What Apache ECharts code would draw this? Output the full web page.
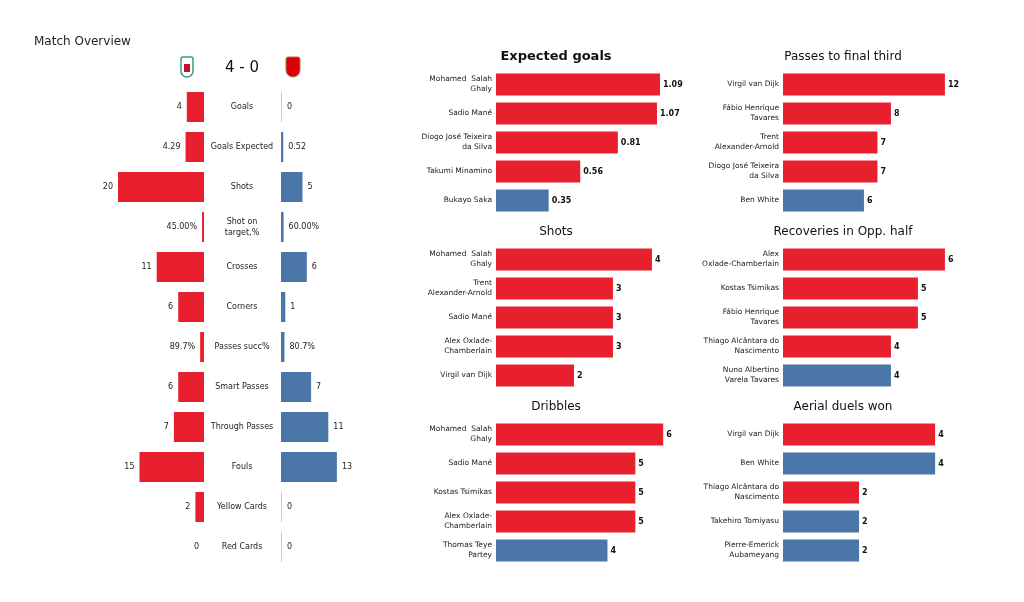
<!DOCTYPE html>
<html><head><meta charset="utf-8">
<script src="https://cdn.jsdelivr.net/npm/echarts@6/dist/echarts.min.js"></script>
<style>html,body{margin:0;background:#fff}#c{width:1024px;height:602px}</style>
</head><body><div id="c"></div>
<script>
var RED = '#e8202e', BLUE = '#4a76a8';

// match overview
var statNames = ['Goals', 'Goals Expected', 'Shots', 'Shot on\ntarget,%', 'Crosses', 'Corners',
  'Passes succ%', 'Smart Passes', 'Through Passes', 'Fouls', 'Yellow Cards', 'Red Cards'];
var homeVals = [4, 4.29, 20, 0.45, 11, 6, 0.897, 6, 7, 15, 2, 0];
var awayVals = [0, 0.52, 5, 0.60, 6, 1, 0.807, 7, 11, 13, 0, 0];
var homeText = ['4', '4.29', '20', '45.00%', '11', '6', '89.7%', '6', '7', '15', '2', '0'];
var awayText = ['0', '0.52', '5', '60.00%', '6', '1', '80.7%', '7', '11', '13', '0', '0'];

// player panels: title, names, values, team (L = Liverpool, A = Arsenal)
var panels = [
  { title: 'Expected goals', bold: true,
    names: ['Mohamed  Salah\nGhaly', 'Sadio Mané', 'Diogo José Teixeira\nda Silva', 'Takumi Minamino', 'Bukayo Saka'],
    values: [1.09, 1.07, 0.81, 0.56, 0.35], teams: ['L', 'L', 'L', 'L', 'A'], max: 1.13 },
  { title: 'Passes to final third',
    names: ['Virgil van Dijk', 'Fábio Henrique\nTavares', 'Trent\nAlexander-Arnold', 'Diogo José Teixeira\nda Silva', 'Ben White'],
    values: [12, 8, 7, 7, 6], teams: ['L', 'L', 'L', 'L', 'A'], max: 12.6 },
  { title: 'Shots',
    names: ['Mohamed  Salah\nGhaly', 'Trent\nAlexander-Arnold', 'Sadio Mané', 'Alex Oxlade-\nChamberlain', 'Virgil van Dijk'],
    values: [4, 3, 3, 3, 2], teams: ['L', 'L', 'L', 'L', 'L'], max: 4.36 },
  { title: 'Recoveries in Opp. half',
    names: ['Alex\nOxlade-Chamberlain', 'Kostas Tsimikas', 'Fábio Henrique\nTavares', 'Thiago Alcântara do\nNascimento', 'Nuno Albertino\nVarela Tavares'],
    values: [6, 5, 5, 4, 4], teams: ['L', 'L', 'L', 'L', 'A'], max: 6.3 },
  { title: 'Dribbles',
    names: ['Mohamed  Salah\nGhaly', 'Sadio Mané', 'Kostas Tsimikas', 'Alex Oxlade-\nChamberlain', 'Thomas Teye\nPartey'],
    values: [6, 5, 5, 5, 4], teams: ['L', 'L', 'L', 'L', 'A'], max: 6.1 },
  { title: 'Aerial duels won',
    names: ['Virgil van Dijk', 'Ben White', 'Thiago Alcântara do\nNascimento', 'Takehiro Tomiyasu', 'Pierre-Emerick\nAubameyang'],
    values: [4, 4, 2, 2, 2], teams: ['L', 'A', 'L', 'A', 'A'], max: 4.47 }
];

var font = 'DejaVu Sans';
var grids = [], xAxes = [], yAxes = [], series = [], graphics = [];

// overview grids
grids.push({ left: 32, top: 87, width: 172, height: 480 });
grids.push({ left: 281, top: 87, width: 172, height: 480 });
xAxes.push({ gridIndex: 0, type: 'value', min: 0, max: 40, inverse: true, show: false });
xAxes.push({ gridIndex: 1, type: 'value', min: 0, max: 40, show: false });
yAxes.push({ gridIndex: 0, type: 'category', data: statNames, inverse: true, show: false });
yAxes.push({ gridIndex: 1, type: 'category', data: statNames, inverse: true,
  axisLine: { show: false }, axisTick: { show: false },
  axisLabel: { align: 'center', margin: 39, fontSize: 8, color: '#222', fontFamily: font, lineHeight: 11 } });
series.push({ type: 'bar', xAxisIndex: 0, yAxisIndex: 0, barWidth: 30, data: homeVals,
  itemStyle: { color: RED },
  label: { show: true, position: 'left', fontSize: 8, color: '#222', fontFamily: font,
    formatter: function (p) { return homeText[p.dataIndex]; } } });
series.push({ type: 'bar', xAxisIndex: 1, yAxisIndex: 1, barWidth: 30, barMinHeight: 1,
  data: awayVals.map(function (v) { return v === 0 ? { value: v, itemStyle: { color: '#c5cfd9' } } : v; }),
  itemStyle: { color: BLUE },
  label: { show: true, position: 'right', fontSize: 8, color: '#222', fontFamily: font,
    formatter: function (p) { return awayText[p.dataIndex]; } } });

graphics.push({ type: 'text', left: 34, top: 36, style: { text: 'Match Overview', fontSize: 12, fill: '#222', fontFamily: font } });
graphics.push({ type: 'text', x: 242, y: 68, style: { text: '4 - 0', fontSize: 15, fill: '#111', fontFamily: font, align: 'center', verticalAlign: 'middle' } });
// simple crest marks
graphics.push({ type: 'rect', shape: { x: 181, y: 57, width: 12, height: 20, r: [2, 2, 6, 6] }, style: { fill: '#fff', stroke: '#3d9a8b', lineWidth: 1.5 } });
graphics.push({ type: 'rect', shape: { x: 184, y: 64, width: 6, height: 8 }, style: { fill: '#c8102e' } });
graphics.push({ type: 'rect', shape: { x: 286, y: 57, width: 14, height: 20, r: [2, 2, 7, 7] }, style: { fill: '#db0007', stroke: '#9c824a', lineWidth: 1 } });

// player panels
var colLeft = [496, 783], tops = [70, 245, 420], titleY = [57, 232, 407];
panels.forEach(function (p, i) {
  var col = i % 2, row = Math.floor(i / 2), gi = grids.length;
  grids.push({ left: colLeft[col], top: tops[row], width: 170, height: 145 });
  xAxes.push({ gridIndex: gi, type: 'value', min: 0, max: p.max, show: false });
  yAxes.push({ gridIndex: gi, type: 'category', data: p.names, inverse: true,
    axisLine: { show: false }, axisTick: { show: false },
    axisLabel: { fontSize: 7.5, color: '#222', fontFamily: font, lineHeight: 10, margin: 4 } });
  series.push({ type: 'bar', xAxisIndex: gi, yAxisIndex: gi, barWidth: 22,
    data: p.values.map(function (v, k) { return { value: v, itemStyle: { color: p.teams[k] === 'L' ? RED : BLUE } }; }),
    label: { show: true, position: 'right', distance: 3, fontSize: 8, fontWeight: 'bold', color: '#111', fontFamily: font } });
  graphics.push({ type: 'text', x: colLeft[col] + 60, y: titleY[row],
    style: { text: p.title, fontSize: p.bold ? 13 : 12, fontWeight: p.bold ? 'bold' : 'normal',
      fill: '#111', fontFamily: font, align: 'center', verticalAlign: 'middle' } });
});

var chart = echarts.init(document.getElementById('c'));
chart.setOption({
  animation: false,
  grid: grids, xAxis: xAxes, yAxis: yAxes, series: series, graphic: graphics
});
</script></body></html>
